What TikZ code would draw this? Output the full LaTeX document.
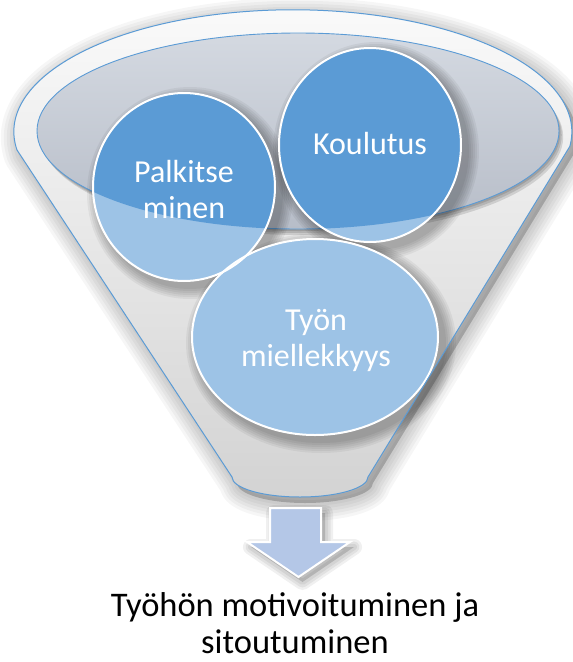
\documentclass[tikz,border=0pt]{standalone}
\usepackage{fontspec}
\setmainfont{Carlito}
\definecolor{rimblue}{HTML}{5B9BD5}
\definecolor{balldark}{HTML}{5B9BD5}
\definecolor{balllight}{HTML}{9DC3E6}
\definecolor{arrowfill}{HTML}{B4C7E7}
\definecolor{mouthtop}{HTML}{D4D9E1}
\definecolor{mouthbottom}{HTML}{B7BDC8}
\definecolor{bodytop}{HTML}{FAFAFA}
\definecolor{bodybottom}{HTML}{D3D3D3}

% outline of the funnel: rim arc, two sides, rounded spout
\newcommand\funnelshape{(17,-150) arc[start angle=188.6, end angle=-6.9, x radius=279, y radius=122]
  -- (368,-477) arc[start angle=0, end angle=-180, x radius=68, y radius=20] -- cycle}
\newcommand\arrowshape{(270,-508) -- (321,-508) -- (321,-542) -- (350,-542) -- (298.5,-577)
  -- (247,-542) -- (270,-542) -- cycle}
\newcommand\mouthshape{(298,-131) ellipse[x radius=261, y radius=98]}

\tikzset{
  haze/.style={black, opacity=0.035, line join=round},
  ballrim/.style={white, line width=2},
  balltext/.style={white, align=center, font=\fontsize{32}{36}\selectfont, inner sep=0},
  captext/.style={black, align=center, font=\fontsize{34.5}{37}\selectfont, inner sep=0},
}

\begin{document}
\begin{tikzpicture}[x=1pt,y=1pt]
\useasboundingbox (0,0) rectangle (573,-662);
\fill[white] (0,0) rectangle (573,-662);

% soft drop shadow of the funnel
\begin{scope}[shift={(5,-6)}]
  \foreach \w in {36,30,24,18,12,6} {\draw[haze, line width=\w] \funnelshape;}
  \fill[black, opacity=0.2] \funnelshape;
\end{scope}

% funnel body
\shade[top color=bodytop, bottom color=bodybottom] \funnelshape;

% shadow under the lower edge of the mouth
\foreach \s in {2,4,6} {\fill[black, opacity=0.12] (298+\s*0.7,-131-\s) ellipse[x radius=261, y radius=98];}

% mouth of the funnel
\shade[top color=mouthtop, bottom color=mouthbottom] \mouthshape;
\draw[rimblue, line width=0.9] \mouthshape;

% soft shadows of the three balls
\foreach \k in {1,...,6} {
  \fill[black, opacity=0.05] (321,-343) ellipse[x radius=123+2*\k, y radius=98+2*\k];
  \fill[black, opacity=0.05] (190,-193) ellipse[x radius=91+2*\k, y radius=94+2*\k];
  \fill[black, opacity=0.05] (376,-151) ellipse[x radius=91+2*\k, y radius=97+2*\k];
}

% balls, light where they stick out of the mouth
\fill[balllight] (315,-337) ellipse[x radius=123, y radius=98];
\fill[balllight] (184,-187) ellipse[x radius=91, y radius=94];
\fill[balllight] (370,-145) ellipse[x radius=91, y radius=97];
\begin{scope}
  \clip \mouthshape;
  \fill[balldark] (184,-187) ellipse[x radius=91, y radius=94];
  \fill[balldark] (370,-145) ellipse[x radius=91, y radius=97];
\end{scope}
\draw[ballrim] (315,-337) ellipse[x radius=123, y radius=98];
\draw[ballrim] (184,-187) ellipse[x radius=91, y radius=94];
\draw[ballrim] (370,-145) ellipse[x radius=91, y radius=97];

\node[balltext] (palkitse) at (184,-189.5) {Palkitse\\minen};
\node[balltext, anchor=base] (koulutus) at (370,-154) {Koulutus};
\node[balltext] (tyon) at (316,-340) {Työn\\miellekkyys};

% funnel outline
\draw[rimblue, line width=1] \funnelshape;

% arrow out of the spout
\begin{scope}[shift={(4,-5)}]
  \foreach \w in {16,11,6} {\draw[haze, opacity=0.06, line width=\w] \arrowshape;}
  \fill[black, opacity=0.15] \arrowshape;
\end{scope}
\fill[arrowfill] \arrowshape;
\draw[white, line width=2, line join=miter] \arrowshape;

\node[captext] (result) at (295,-623) {Työhön motivoituminen ja\\sitoutuminen};
\end{tikzpicture}
\end{document}
